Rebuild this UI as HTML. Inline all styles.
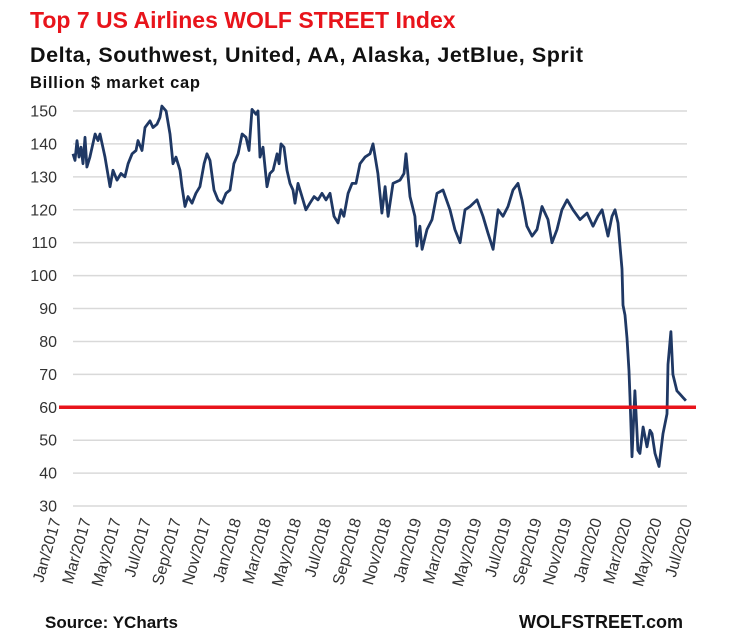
<!DOCTYPE html>
<html><head><meta charset="utf-8"><style>
body{margin:0;background:#fff;}
svg{display:block;font-family:"Liberation Sans",sans-serif;}
</style></head><body>
<svg width="736" height="643" viewBox="0 0 736 643">
<text x="30" y="28" font-size="23" font-weight="bold" fill="#e8141b">Top 7 US Airlines WOLF STREET Index</text>
<text x="30" y="62" font-size="21.5" font-weight="bold" fill="#111" textLength="553">Delta, Southwest, United, AA, Alaska, JetBlue, Sprit</text>
<text x="30" y="88" font-size="16.5" font-weight="bold" fill="#111" textLength="170">Billion $ market cap</text>
<g id="grid"></g>
<g id="yticks"></g>
<g id="xticks"></g>
<path id="series" fill="none" stroke="#1f3864" stroke-width="2.8" stroke-linejoin="round"></path>
<line id="ref" stroke="#e8141b" stroke-width="3.5"></line>
<text x="45" y="628" font-size="17" font-weight="bold" fill="#111">Source: YCharts</text>
<text x="683" y="628" font-size="18" font-weight="bold" fill="#111" text-anchor="end">WOLFSTREET.com</text>
</svg>
<script>
const yTicks=[30,40,50,60,70,80,90,100,110,120,130,140,150];
const xLabels=["Jan/2017","Mar/2017","May/2017","Jul/2017","Sep/2017","Nov/2017","Jan/2018","Mar/2018","May/2018","Jul/2018","Sep/2018","Nov/2018","Jan/2019","Mar/2019","May/2019","Jul/2019","Sep/2019","Nov/2019","Jan/2020","Mar/2020","May/2020","Jul/2020"];
const refValue=60;
const months=[0,0.14,0.28,0.42,0.56,0.7,0.84,0.98,1.19,1.55,1.76,1.9,2.25,2.6,2.81,3.09,3.37,3.65,3.87,4.15,4.43,4.57,4.85,5.06,5.41,5.62,5.9,6.11,6.25,6.54,6.82,7.03,7.24,7.52,7.66,7.87,8.08,8.36,8.64,8.92,9.21,9.42,9.63,9.91,10.19,10.47,10.75,11.03,11.31,11.6,11.88,12.16,12.37,12.58,12.86,13,13.14,13.35,13.63,13.84,14.06,14.34,14.48,14.62,14.83,15.04,15.25,15.46,15.6,15.81,16.09,16.37,16.65,16.94,17.22,17.5,17.78,18.06,18.34,18.62,18.83,19.04,19.33,19.61,19.89,20.17,20.52,20.87,21.08,21.43,21.71,21.93,22.14,22.49,22.98,23.26,23.4,23.68,24.03,24.17,24.38,24.53,24.88,25.23,25.58,26,26.49,26.84,27.2,27.55,27.9,28.39,28.81,29.16,29.52,29.87,30.22,30.57,30.92,31.27,31.55,31.9,32.26,32.61,32.96,33.38,33.66,34.01,34.36,34.72,35.14,35.63,36.12,36.54,36.89,37.18,37.6,37.88,38.09,38.3,38.58,38.65,38.79,38.93,39.07,39.14,39.28,39.49,39.7,39.84,40.06,40.34,40.55,40.69,40.9,41.18,41.46,41.74,41.81,42.02,42.16,42.44,42.65,42.86,43.07];
const values=[137,135,141,136,139,134,142,133,136,143,141,143,136,127,132,129,131,130,134,137,138,141,138,145,147,145,146,148,151.5,150,143,134,136,132,127,121,124,122,125,127,134,137,135,126,123,122,125,126,134,137,143,142,138,150.5,149,150,136,139,127,131,132,137,134,140,139,132,128,126,122,128,124,120,122,124,123,125,123,125,118,116,120,118,125,128,128,134,136,137,140,131,119,127,118,128,129,131,137,124,118,109,115,108,114,117,125,126,120,114,110,120,121,123,118,113,108,120,118,121,126,128,123,115,112,114,121,117,110,114,120,123,120,117,119,115,118,120,112,118,120,116,102,91,88,81,71,63,45,65,47,46,54,48,53,52,46,42,52,58,73,83,70,65,64,63,62];
const NS="http://www.w3.org/2000/svg";
const X0=73,X1=687,PXM=14.23,Y150=111,PX10=32.92;
function xScale(m){return X0+m*PXM;}
function yScale(v){return Y150+(150-v)/10*PX10;}
function labelX(i){return 61+i*30.05;}
const grid=document.getElementById('grid'),yt=document.getElementById('yticks'),xt=document.getElementById('xticks');
yTicks.forEach(v=>{
 const l=document.createElementNS(NS,'line');
 l.setAttribute('x1',X0);l.setAttribute('x2',X1);l.setAttribute('y1',yScale(v));l.setAttribute('y2',yScale(v));
 l.setAttribute('stroke','#d9d9d9');l.setAttribute('stroke-width','1.5');
 
 
 grid.appendChild(l);
 const t=document.createElementNS(NS,'text');
 t.setAttribute('x',57);t.setAttribute('y',yScale(v)+5.5);t.setAttribute('text-anchor','end');
 t.setAttribute('font-size','16');t.setAttribute('fill','#333');t.textContent=v;
 
 
 yt.appendChild(t);
});
xLabels.forEach((s,i)=>{
 const t=document.createElementNS(NS,'text');
 const x=labelX(i),y=520;
 t.setAttribute('x',x);t.setAttribute('y',y);t.setAttribute('text-anchor','end');
 t.setAttribute('font-size','16');t.setAttribute('fill','#333');
 t.setAttribute('transform','rotate(-74 '+x+' '+y+')');
 t.textContent=s;
 
 
 xt.appendChild(t);
});
let d='';
months.forEach((m,i)=>{d+=(i?'L':'M')+xScale(m).toFixed(1)+' '+yScale(values[i]).toFixed(1);});
document.getElementById('series').setAttribute('d',d);
const r=document.getElementById('ref');
r.setAttribute('x1',59);r.setAttribute('x2',696);r.setAttribute('y1',yScale(refValue));r.setAttribute('y2',yScale(refValue));
</script>
</body></html>
